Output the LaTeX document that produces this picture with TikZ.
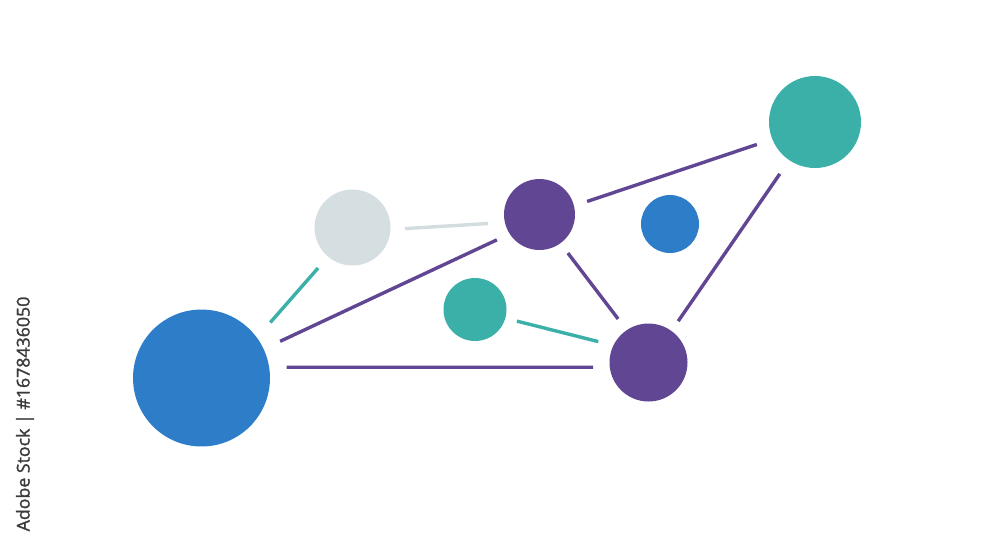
\documentclass[tikz,border=0pt]{standalone}
\usepackage{fontspec}
\setmainfont{Open Sans}
\newfontfamily\wmfont[FakeBold=1.3]{Open Sans}
\definecolor{cblue}{HTML}{2E7DC8}
\definecolor{cpurple}{HTML}{614694}
\definecolor{cteal}{HTML}{3AB0A8}
\definecolor{cgray}{HTML}{D5DFE1}
\definecolor{cgrayline}{HTML}{D3DDE0}
\definecolor{ctext}{HTML}{3A3A3A}
\begin{document}
\begin{tikzpicture}[x=0.02cm,y=-0.02cm,
  dot/.style={circle,inner sep=0pt,outer sep=0pt},
  link/.style={line width=0.068cm},
  wmark/.style={rotate=90,text=ctext,inner sep=0pt,font=\wmfont\fontsize{10.1pt}{12pt}\selectfont}]
\useasboundingbox[fill=white] (0,0) rectangle (1000,545);
% nodes
\node[dot,fill=cblue,minimum size=2.74cm] (bb) at (201.5,378) {};
\node[dot,fill=cgray,minimum size=1.52cm] (gy) at (352.5,227.5) {};
\node[dot,fill=cpurple,minimum size=1.42cm] (pt) at (539.5,214.5) {};
\node[dot,fill=cblue,minimum size=1.16cm] (sb) at (670,224) {};
\node[dot,fill=cteal,minimum size=1.26cm] (ts) at (475,309.5) {};
\node[dot,fill=cpurple,minimum size=1.56cm] (pb) at (648.5,362.5) {};
\node[dot,fill=cteal,minimum size=1.84cm] (tb) at (815,122) {};
% connectors
\draw[link,cteal,shorten <=0.406cm,shorten >=0.304cm] (bb.36.6) -- (gy.230);
\draw[link,cpurple,shorten <=0.366cm,shorten >=0.284cm] (bb.25.3) -- (pt.213.4);
\draw[link,cpurple,shorten <=0.35cm,shorten >=0.336cm] (bb.9) -- (pb.187.1);
\draw[link,cgrayline,shorten <=0.291cm,shorten >=0.34cm] (gy.357.8) -- (pt.193.5);
\draw[link,cpurple,shorten <=0.278cm,shorten >=0.328cm] (pt.14.9) -- (tb.202.9);
\draw[link,cpurple,shorten <=0.248cm,shorten >=0.283cm] (pt.306.3) -- (pb.124.3);
\draw[link,cteal,shorten <=0.241cm,shorten >=0.314cm] (ts.344.3) -- (pb.154.9);
\draw[link,cpurple,shorten <=0.334cm,shorten >=0.238cm] (tb.236.3) -- (pb.54.4);
% side text
\node[wmark] (wm) at (25,414) {Adobe Stock | \#1678436050};
\end{tikzpicture}
\end{document}
